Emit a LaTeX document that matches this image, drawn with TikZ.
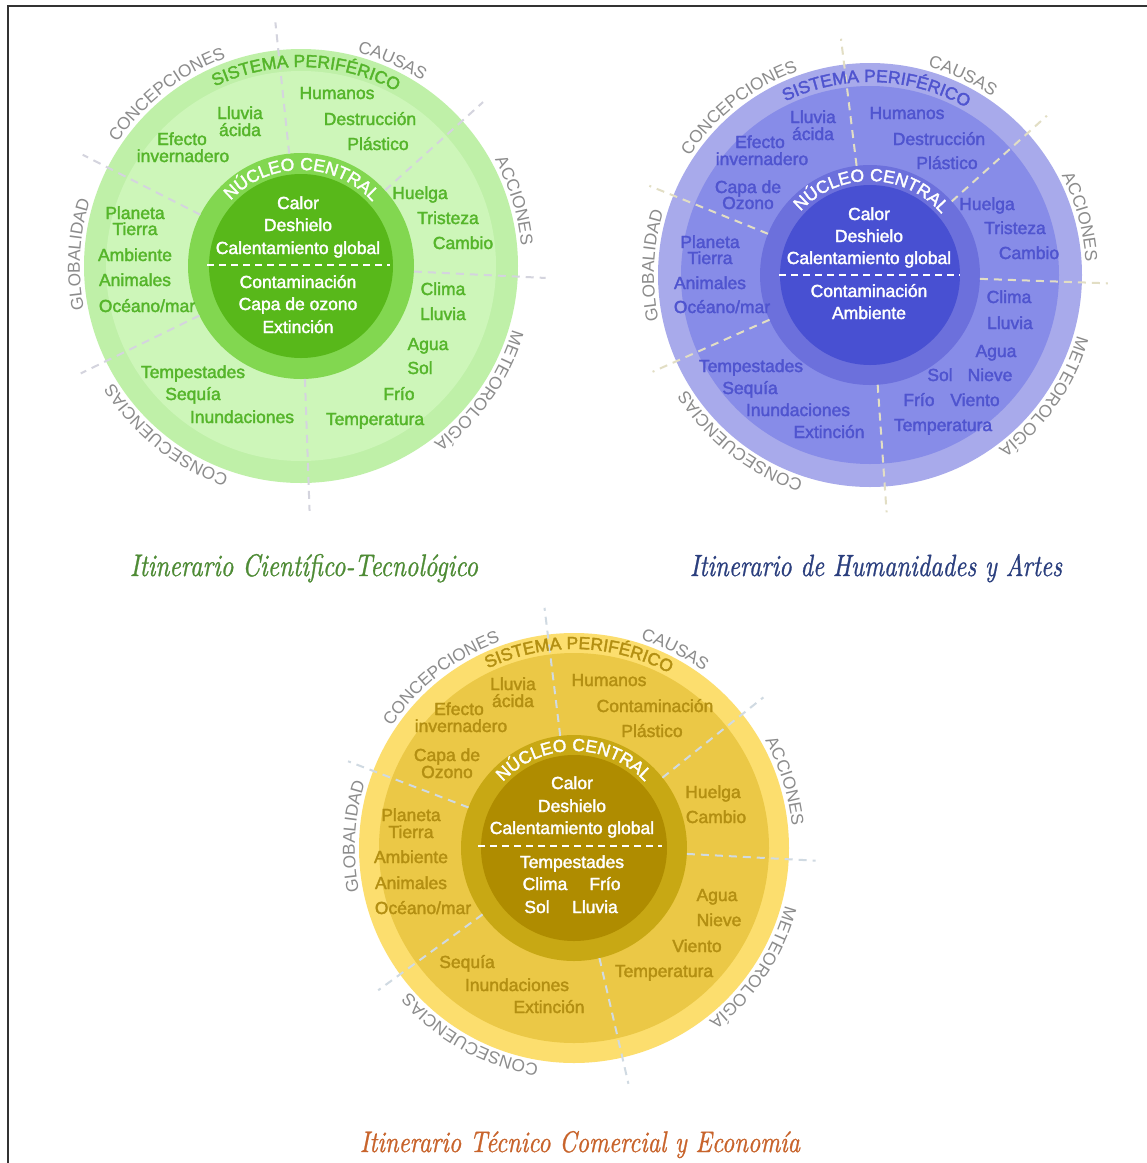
\documentclass[tikz,border=0pt]{standalone}
\usepackage{fontspec}
\usepackage{graphicx}
\newfontfamily\sans{Liberation Sans}
\newfontfamily\sansb[FakeBold=2]{Liberation Sans}
\newfontface\capit[FakeBold=1]{lmroman10-italic.otf}
\usetikzlibrary{decorations.text}

\definecolor{go}{HTML}{BFF0A8}
\definecolor{gi}{HTML}{CDF6B9}
\definecolor{gc}{HTML}{82D750}
\definecolor{gd}{HTML}{58B81A}
\definecolor{gt}{HTML}{55B52A}
\definecolor{gl}{HTML}{D4D4DE}
\definecolor{bo}{HTML}{A8AAEB}
\definecolor{bi}{HTML}{878CE8}
\definecolor{bc}{HTML}{6C70DC}
\definecolor{bd}{HTML}{4850D2}
\definecolor{bt}{HTML}{4F54CF}
\definecolor{bl}{HTML}{E2DEC4}
\definecolor{yo}{HTML}{FCDE6E}
\definecolor{yi}{HTML}{EBC846}
\definecolor{yc}{HTML}{C8A814}
\definecolor{yd}{HTML}{AF8C00}
\definecolor{yt}{HTML}{B38F12}
\definecolor{yl}{HTML}{D0DAE2}
\definecolor{lab}{HTML}{8C8C8C}
\definecolor{capg}{HTML}{4E8B35}
\definecolor{capb}{HTML}{2B3F7E}
\definecolor{capo}{HTML}{C8642C}

\newcommand\rings[7]{%
 \fill[#7o] (#1,-#2) circle[radius=#3];
 \fill[#7i] (#1,-#2) circle[radius=#4];
 \fill[#7c] (#1,-#2) circle[radius=#5];
 \fill[#7d] (#1,-#2) circle[radius=#6];}
\newcommand\spokes[6]{%
 \foreach \a in {#6} \draw[spoke,#5,shift={(#1,-#2)}] (\a:#3) -- (\a:#4);}
\newcommand\arctext[6]{%
 \path[shift={(#1,-#2)},decorate,decoration={text along path,text align=center,text={|#5|#6}}]
   (#4+80:#3) arc[start angle=#4+80,end angle=#4-80,radius=#3];}
\newcommand\tx[4]{\node[ptxt] (#1) at (#2,-#3-6) {#4};}
\newcommand\cx[4]{\node[ctxt] (#1) at (#2,-#3-6) {#4};}
\newcommand\grayfmt{\sans\fontsize{17.3}{17}\selectfont\color{lab}}
\newcommand\whitefmt{\sansb\fontsize{17.5}{17.5}\selectfont\color{white}}

\begin{document}
\begin{tikzpicture}[x=1pt,y=1pt,
  spoke/.style={line width=2pt,dash pattern=on 8pt off 6pt},
  sep/.style={white,line width=1.5pt,dash pattern=on 7pt off 5pt},
  ptxt/.style={anchor=base,inner sep=0pt,font=\sansb\fontsize{17.5}{18}\selectfont},
  ctxt/.style={anchor=base,inner sep=0pt,text=white,font=\sansb\fontsize{17.5}{18}\selectfont},
  captxt/.style={anchor=base,inner sep=0pt}]
\useasboundingbox (0,0) rectangle (1147,-1163);
\fill[white] (0,0) rectangle (1147,-1163);
\draw[line width=1.5pt,black!80] (8,-1163) -- (8,-6) -- (1147,-6);

% ===== GREEN =====
\rings{301}{266}{217}{195}{113}{92}{g}
\spokes{301}{266}{113}{245}{gl}{96,42,-2.8,-88,206,153}
\draw[sep] (207,-265) -- (390,-265);
\arctext{301}{266}{221}{128}{\grayfmt}{CONCEPCIONES}
\arctext{301}{266}{221}{66}{\grayfmt}{CAUSAS}
\arctext{301}{266}{221}{17}{\grayfmt}{ACCIONES}
\arctext{301}{266}{221}{-35}{\grayfmt}{METEOROLOGÍA}
\arctext{301}{266}{221}{-128.6}{\grayfmt}{CONSECUENCIAS}
\arctext{301}{266}{221}{177}{\grayfmt}{GLOBALIDAD}
\arctext{301}{266}{199}{88.5}{\sansb\fontsize{17.5}{17.5}\selectfont\color{gt}}{SISTEMA PERIFÉRICO}
\arctext{301}{266}{96}{89.5}{\whitefmt}{NÚCLEO CENTRAL}
\begin{scope}[ptxt/.append style={text=gt}]
\tx{g1}{240}{113}{Lluvia}
\tx{g2}{240}{130}{ácida}
\tx{g3}{182}{139}{Efecto}
\tx{g4}{183}{156}{invernadero}
\tx{g5}{337}{93}{Humanos}
\tx{g6}{370}{119}{Destrucción}
\tx{g7}{378}{144}{Plástico}
\tx{g8}{420}{193}{Huelga}
\tx{g9}{448}{218}{Tristeza}
\tx{g10}{463}{243}{Cambio}
\tx{g11}{443}{289}{Clima}
\tx{g12}{443}{314}{Lluvia}
\tx{g13}{428}{344}{Agua}
\tx{g14}{420}{368}{Sol}
\tx{g15}{399}{394}{Frío}
\tx{g16}{375}{419}{Temperatura}
\tx{g17}{193}{372}{Tempestades}
\tx{g18}{193}{394}{Sequía}
\tx{g19}{242}{417}{Inundaciones}
\tx{g20}{135}{213}{Planeta}
\tx{g21}{135}{229}{Tierra}
\tx{g22}{135}{255}{Ambiente}
\tx{g23}{135}{280}{Animales}
\tx{g24}{147}{306}{Océano/mar}
\end{scope}
\cx{gc1}{298}{203}{Calor}
\cx{gc2}{298}{225}{Deshielo}
\cx{gc3}{298}{248}{Calentamiento global}
\cx{gc4}{298}{282}{Contaminación}
\cx{gc5}{298}{304}{Capa de ozono}
\cx{gc6}{298}{327}{Extinción}

% ===== BLUE =====
\rings{870}{275}{212}{189}{110}{90}{b}
\spokes{870}{275}{110}{238}{bl}{97,42,-2,-86,204,158}
\draw[sep] (779,-275) -- (960,-275);
\arctext{870}{275}{216}{128}{\grayfmt}{CONCEPCIONES}
\arctext{870}{275}{216}{65}{\grayfmt}{CAUSAS}
\arctext{870}{275}{216}{15.5}{\grayfmt}{ACCIONES}
\arctext{870}{275}{216}{-35}{\grayfmt}{METEOROLOGÍA}
\arctext{870}{275}{216}{-128}{\grayfmt}{CONSECUENCIAS}
\arctext{870}{275}{216}{177.5}{\grayfmt}{GLOBALIDAD}
\arctext{870}{275}{193}{88}{\sansb\fontsize{17.5}{17.5}\selectfont\color{bt}}{SISTEMA PERIFÉRICO}
\arctext{870}{275}{94}{89}{\whitefmt}{NÚCLEO CENTRAL}
\begin{scope}[ptxt/.append style={text=bt}]
\tx{b1}{813}{117}{Lluvia}
\tx{b2}{813}{134}{ácida}
\tx{b3}{760}{142}{Efecto}
\tx{b4}{762}{159}{invernadero}
\tx{b5}{748}{187}{Capa de}
\tx{b6}{748}{203}{Ozono}
\tx{b7}{907}{113}{Humanos}
\tx{b8}{939}{139}{Destrucción}
\tx{b9}{947}{163}{Plástico}
\tx{b10}{987}{204}{Huelga}
\tx{b11}{1015}{228}{Tristeza}
\tx{b12}{1029}{253}{Cambio}
\tx{b13}{1009}{297}{Clima}
\tx{b14}{1010}{323}{Lluvia}
\tx{b15}{996}{351}{Agua}
\tx{b16}{940}{375}{Sol}
\tx{b17}{990}{375}{Nieve}
\tx{b18}{919}{400}{Frío}
\tx{b19}{975}{400}{Viento}
\tx{b20}{943}{425}{Temperatura}
\tx{b21}{751}{366}{Tempestades}
\tx{b22}{750}{388}{Sequía}
\tx{b23}{798}{410}{Inundaciones}
\tx{b24}{829}{432}{Extinción}
\tx{b25}{710}{242}{Planeta}
\tx{b26}{710}{258}{Tierra}
\tx{b27}{710}{283}{Animales}
\tx{b28}{722}{307}{Océano/mar}
\end{scope}
\cx{bc1}{869}{214}{Calor}
\cx{bc2}{869}{236}{Deshielo}
\cx{bc3}{869}{258}{Calentamiento global}
\cx{bc4}{869}{291}{Contaminación}
\cx{bc5}{869}{313}{Ambiente}

% ===== YELLOW =====
\rings{574}{848}{215}{195}{113}{93}{y}
\spokes{574}{848}{113}{242}{yl}{97,38.5,-3,-77,216,159}
\draw[sep] (478,-846) -- (662,-846);
\arctext{574}{848}{219}{128}{\grayfmt}{CONCEPCIONES}
\arctext{574}{848}{219}{63}{\grayfmt}{CAUSAS}
\arctext{574}{848}{219}{17.5}{\grayfmt}{ACCIONES}
\arctext{574}{848}{219}{-33.7}{\grayfmt}{METEOROLOGÍA}
\arctext{574}{848}{219}{-119}{\grayfmt}{CONSECUENCIAS}
\arctext{574}{848}{219}{177}{\grayfmt}{GLOBALIDAD}
\arctext{574}{848}{199}{88.5}{\sansb\fontsize{17.5}{17.5}\selectfont\color{yt}}{SISTEMA PERIFÉRICO}
\arctext{574}{848}{97}{90}{\whitefmt}{NÚCLEO CENTRAL}
\begin{scope}[ptxt/.append style={text=yt}]
\tx{y1}{513}{684}{Lluvia}
\tx{y2}{513}{701}{ácida}
\tx{y3}{459}{709}{Efecto}
\tx{y4}{461}{726}{invernadero}
\tx{y5}{447}{755}{Capa de}
\tx{y6}{447}{772}{Ozono}
\tx{y7}{609}{680}{Humanos}
\tx{y8}{655}{706}{Contaminación}
\tx{y9}{652}{731}{Plástico}
\tx{y10}{713}{792}{Huelga}
\tx{y11}{716}{817}{Cambio}
\tx{y12}{717}{895}{Agua}
\tx{y13}{719}{920}{Nieve}
\tx{y14}{697}{946}{Viento}
\tx{y15}{664}{971}{Temperatura}
\tx{y16}{467}{962}{Sequía}
\tx{y17}{517}{985}{Inundaciones}
\tx{y18}{549}{1007}{Extinción}
\tx{y19}{411}{815}{Planeta}
\tx{y20}{411}{832}{Tierra}
\tx{y21}{411}{857}{Ambiente}
\tx{y22}{411}{883}{Animales}
\tx{y23}{423}{908}{Océano/mar}
\end{scope}
\cx{yc1}{572}{783}{Calor}
\cx{yc2}{572}{806}{Deshielo}
\cx{yc3}{572}{828}{Calentamiento global}
\cx{yc4}{572}{862}{Tempestades}
\cx{yc5}{545}{884}{Clima}
\cx{yc6}{605}{884}{Frío}
\cx{yc7}{537}{907}{Sol}
\cx{yc8}{595}{907}{Lluvia}

% ===== CAPTIONS =====
\node[captxt,text=capg] (capG) at (304,-576) {\resizebox{348pt}{22pt}{\capit Itinerario Científico-Tecnológico}};
\node[captxt,text=capb] (capB) at (876,-576) {\resizebox{372pt}{22pt}{\capit Itinerario de Humanidades y Artes}};
\node[captxt,text=capo] (capO) at (580,-1152) {\resizebox{440pt}{21pt}{\capit Itinerario Técnico Comercial y Economía}};
\end{tikzpicture}
\end{document}
